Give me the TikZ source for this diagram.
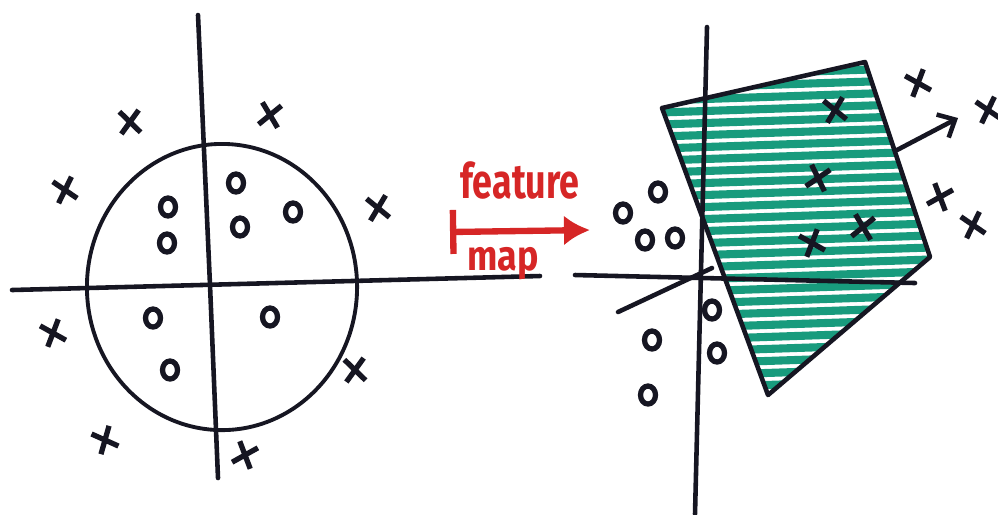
\documentclass[tikz,border=0pt]{standalone}
\usepackage{fontspec}
\usepackage{graphicx}
\newfontfamily\penfont{Fira Sans}
\usetikzlibrary{arrows.meta,shapes.geometric,shapes.misc}
\definecolor{pen}{RGB}{22,22,34}
\definecolor{marker}{RGB}{214,38,38}
\definecolor{hatchgreen}{RGB}{24,155,125}

\begin{document}
\begin{tikzpicture}[
    x=0.01cm, y=-0.01cm,
    axis/.style={draw=pen, line width=1.3pt, line cap=round},
    xmark/.style={cross out, draw=pen, line width=1.5pt, minimum width=0.14cm, minimum height=0.17cm, inner sep=0pt},
    omark/.style={ellipse, draw=pen, line width=1.5pt, minimum width=0.15cm, minimum height=0.18cm, inner sep=0pt},
    hatch/.style={draw=hatchgreen, line width=2.3pt, line cap=round},
    redtext/.style={text=marker, inner sep=0pt, font=\penfont\bfseries\fontsize{12}{12}\selectfont}
]
    \useasboundingbox (0,0) rectangle (998,514);

    % input space
    \coordinate (lT) at (198,15);
    \coordinate (lM) at (210,285);
    \coordinate (lB) at (218,478);
    \coordinate (lL) at (12,290);
    \coordinate (lR) at (540,276);
    \draw[axis] (lT) -- (lM) -- (lB);
    \draw[axis] (lL) -- (lR);
    \node[ellipse, draw=pen, line width=1.1pt, minimum width=2.7cm, minimum height=2.86cm] (blob) at (222,287) {};
    \foreach \px/\py/\r [count=\i] in {130/122/5, 270/115/-10, 65/190/15, 378/208/10,
                                        53/333/20, 355/370/5, 105/440/25, 245/455/-20} {
        \node[xmark, rotate=\r] (lx\i) at (\px,\py) {};
    }
    \foreach \px/\py [count=\i] in {236/183, 168/207, 293/212, 240/227,
                                    167/243, 153/318, 270/317, 170/370} {
        \node[omark] (lo\i) at (\px,\py) {};
    }

    % the map
    \node[redtext] (feat) at (520,180) {\scalebox{0.85}[1.15]{feature}};
    \node[redtext] (mapl) at (503,264) {\scalebox{0.85}[1]{map}};
    \coordinate (mapS) at (450,232);
    \coordinate (mapE) at (590,230);
    \draw[draw=marker, line width=1.8pt, {Bar[width=0.44cm]}-{Latex[length=0.26cm, width=0.3cm]}] (mapS) -- (mapE);

    % feature space
    \coordinate (pA) at (662,108);
    \coordinate (pB) at (865,62);
    \coordinate (pC) at (930,257);
    \coordinate (pD) at (768,395);
    \begin{scope}
        \clip (pA) -- (pB) -- (pC) -- (pD) -- cycle;
        \foreach \y in {60,72,...,408} {
            \draw[hatch] (645,\y+5) -- (945,\y-5);
        }
    \end{scope}
    \coordinate (rT) at (707,27);
    \coordinate (rB) at (695,514);
    \coordinate (rL) at (575,275);
    \coordinate (rR) at (915,283);
    \coordinate (dS) at (618,312);
    \coordinate (dE) at (712,268);
    \draw[axis] (rT) -- (rB);
    \draw[axis] (rL) -- (rR);
    \draw[axis] (dS) -- (dE);
    \draw[axis, line join=round] (pA) -- (pB) -- (pC) -- (pD) -- cycle;
    \coordinate (nS) at (897,150);
    \coordinate (nE) at (958,118);
    \draw[axis, -{Straight Barb[length=0.14cm, width=0.26cm]}] (nS) -- (nE);
    \foreach \px/\py/\r [count=\i] in {835/110/10, 818/178/-15, 812/243/20, 863/227/-10,
                                        918/83/20, 988/110/15, 940/197/-20, 973/225/15} {
        \node[xmark, rotate=\r] (rx\i) at (\px,\py) {};
    }
    \foreach \px/\py [count=\i] in {658/192, 623/213, 645/240, 675/238,
                                    712/310, 652/340, 717/353, 648/395} {
        \node[omark] (ro\i) at (\px,\py) {};
    }
\end{tikzpicture}
\end{document}
